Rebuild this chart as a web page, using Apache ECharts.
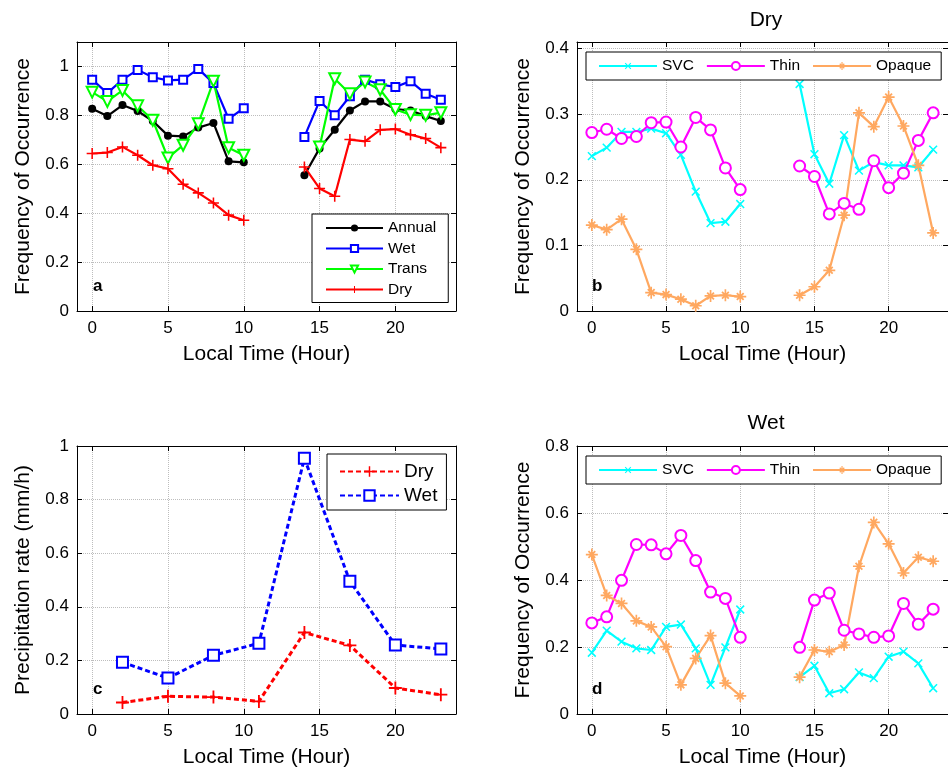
<!DOCTYPE html>
<html>
<head>
<meta charset="UTF-8">
<title></title>
<script src="https://cdn.jsdelivr.net/npm/echarts@6/dist/echarts.min.js"></script>
<style>
html, body { margin: 0; padding: 0; background: #fff; }
#main { width: 948px; height: 776px; }
</style>
</head>
<body>
<div id="main"></div>
<script>
// local hour 0..23, hours 11-13 have no data
var hours = [0,1,2,3,4,5,6,7,8,9,10,11,12,13,14,15,16,17,18,19,20,21,22,23];

// (a) frequency of occurrence
var aAnnual = [0.827,0.797,0.842,0.818,0.777,0.717,0.714,0.750,0.769,0.612,0.608,null,null,null,0.555,0.665,0.741,0.820,0.857,0.857,0.826,0.820,0.797,0.777];
var aWet    = [0.946,0.891,0.946,0.986,0.956,0.943,0.946,0.990,0.932,0.786,0.829,null,null,null,0.712,0.859,0.800,0.878,0.946,0.927,0.916,0.940,0.888,0.864];
var aTrans  = [0.895,0.857,0.902,0.839,0.780,0.626,0.678,0.766,0.940,0.668,0.637,null,null,null,null,0.671,0.950,0.888,0.936,0.905,0.824,0.803,0.800,0.811];
var aDry    = [0.644,0.648,0.671,0.637,0.596,0.582,0.518,0.483,0.442,0.392,0.371,null,null,null,0.589,0.501,0.469,0.701,0.694,0.741,0.744,0.721,0.705,0.668];

// (b) dry season
var bSvc    = [0.236,0.249,0.273,0.273,0.278,0.271,0.238,0.182,0.134,0.136,0.163,null,null,null,0.346,0.239,0.194,0.268,0.214,0.227,0.222,0.222,0.219,0.246];
var bThin   = [0.272,0.277,0.263,0.266,0.287,0.288,0.250,0.295,0.276,0.218,0.185,null,null,null,0.221,0.205,0.148,0.164,0.155,0.229,0.188,0.210,0.260,0.302];
var bOpaque = [0.131,0.124,0.140,0.094,0.028,0.025,0.018,0.008,0.023,0.024,0.022,null,null,null,0.024,0.037,0.062,0.146,0.302,0.281,0.326,0.282,0.222,0.119];

// (c) precipitation rate, every 3 hours
var cHours = [2,5,8,11,14,17,20,23];
var cDry   = [0.043,0.066,0.063,0.047,0.304,0.256,0.097,0.072];
var cWet   = [0.193,0.134,0.219,0.264,0.954,0.495,0.257,0.243];

// (d) wet season
var dSvc    = [0.183,0.249,0.216,0.196,0.191,0.260,0.267,0.196,0.087,0.199,0.312,null,null,null,0.110,0.144,0.062,0.074,0.124,0.107,0.171,0.186,0.151,0.077];
var dThin   = [0.272,0.290,0.399,0.506,0.505,0.478,0.533,0.458,0.364,0.345,0.229,null,null,null,0.199,0.340,0.361,0.250,0.239,0.229,0.233,0.330,0.268,0.313];
var dOpaque = [0.476,0.354,0.330,0.278,0.260,0.201,0.087,0.166,0.234,0.092,0.054,null,null,null,0.110,0.191,0.186,0.206,0.441,0.572,0.508,0.421,0.468,0.456];

var FONT = '"Liberation Sans", Arial, Helvetica, sans-serif';

// marker shapes: plus, and asterisk (plus + x)
var PLUS = 'path://M-1,-0.14L1,-0.14L1,0.14L-1,0.14Z M-0.14,-1L0.14,-1L0.14,1L-0.14,1Z';
var STAR = 'path://M-1,-0.14L1,-0.14L1,0.14L-1,0.14Z M-0.14,-1L0.14,-1L0.14,1L-0.14,1Z' +
	' M-0.46,-0.672L0.672,0.46L0.46,0.672L-0.672,-0.46Z' +
	' M0.672,-0.46L-0.46,0.672L-0.672,0.46L0.46,-0.672Z';

var grids = [
	{left: 77,  top: 42,  width: 379, height: 269},
	{left: 577, top: 42,  width: 379, height: 269},
	{left: 77,  top: 446, width: 379, height: 268},
	{left: 577, top: 446, width: 379, height: 268}
];

function pairs(xs, ys) {
	return xs.map(function (x, i) { return [x, ys[i] == null ? '-' : ys[i]]; });
}

var tickStyle = {inside: true, length: 5, lineStyle: {color: '#000', width: 1}};
var lineBlack = {onZero: false, lineStyle: {color: '#000', width: 1}};
var gridLine = {show: true, lineStyle: {color: '#bdbdbd', type: 'dotted', width: 1}};

var xAxes = [], yAxes = [];
function addAxes(g, ymax, yint, yname, hideMax) {
	xAxes.push({
		gridIndex: g, type: 'value', min: -1, max: 24, splitNumber: 5, minInterval: 5, maxInterval: 5,
		name: 'Local Time (Hour)', nameLocation: 'middle', nameGap: 33,
		nameTextStyle: {fontSize: 21, color: '#000', fontFamily: FONT},
		axisLine: lineBlack, axisTick: tickStyle,
		axisLabel: {margin: 9, fontSize: 17, color: '#000', fontFamily: FONT, showMinLabel: false, showMaxLabel: false},
		splitLine: gridLine
	});
	xAxes.push({
		gridIndex: g, type: 'value', position: 'top', min: -1, max: 24, splitNumber: 5, minInterval: 5, maxInterval: 5,
		axisLine: lineBlack, axisTick: tickStyle, axisLabel: {show: false}, splitLine: {show: false}
	});
	var lab = {margin: 8, fontSize: 17, color: '#000', fontFamily: FONT};
	if (hideMax) lab.showMaxLabel = false;
	yAxes.push({
		gridIndex: g, type: 'value', min: 0, max: ymax, interval: yint,
		name: yname, nameLocation: 'middle', nameGap: 43,
		nameTextStyle: {fontSize: 21, color: '#000', fontFamily: FONT},
		axisLine: lineBlack, axisTick: tickStyle, axisLabel: lab, splitLine: gridLine
	});
	yAxes.push({
		gridIndex: g, type: 'value', position: 'right', min: 0, max: ymax, interval: yint,
		axisLine: lineBlack, axisTick: tickStyle, axisLabel: {show: false}, splitLine: {show: false}
	});
}
addAxes(0, 1.1, 0.2, 'Frequency of Occurrence', true);
addAxes(1, 0.41, 0.1, 'Frequency of Occurrence', true);
addAxes(2, 1, 0.2, 'Precipitation rate (mm/h)', false);
addAxes(3, 0.8, 0.2, 'Frequency of Occurrence', false);

function line(name, g, xs, ys, color, symbol, size, extra) {
	var s = {
		name: name, type: 'line', xAxisIndex: 2 * g, yAxisIndex: 2 * g,
		data: pairs(xs, ys), connectNulls: false,
		symbol: symbol, symbolSize: size, showAllSymbol: true,
		lineStyle: {color: color, width: 2.2},
		itemStyle: {color: color, borderColor: color, borderWidth: 2},
		emphasis: {disabled: true}
	};
	if (extra) {
		for (var k in extra) s[k] = extra[k];
	}
	return s;
}

var series = [
	line('Annual', 0, hours, aAnnual, '#000000', 'circle', 8, {itemStyle: {color: '#000', borderWidth: 0}}),
	line('Wet', 0, hours, aWet, '#0000ff', 'emptyRect', 8),
	line('Trans', 0, hours, aTrans, '#00ff00', 'emptyTriangle', 11, {symbolRotate: 180}),
	line('Dry', 0, hours, aDry, '#ff0000', PLUS, 11, {itemStyle: {color: '#ff0000', borderWidth: 0}}),

	line('SVC', 1, hours, bSvc, '#00ffff', PLUS, 11, {symbolRotate: 45, itemStyle: {color: '#00ffff', borderWidth: 0}}),
	line('Thin', 1, hours, bThin, '#ff00ff', 'emptyCircle', 11),
	line('Opaque', 1, hours, bOpaque, '#ffa860', STAR, 12, {itemStyle: {color: '#ffa860', borderWidth: 0}}),

	line('Dry ', 2, cHours, cDry, '#ff0000', PLUS, 13, {
		lineStyle: {color: '#ff0000', width: 3, type: [5, 3]},
		itemStyle: {color: '#ff0000', borderWidth: 0}
	}),
	line('Wet ', 2, cHours, cWet, '#0000ff', 'emptyRect', 11, {
		lineStyle: {color: '#0000ff', width: 3, type: [5, 3]},
		itemStyle: {color: '#0000ff', borderColor: '#0000ff', borderWidth: 3}
	}),

	line('SVC', 3, hours, dSvc, '#00ffff', PLUS, 11, {symbolRotate: 45, itemStyle: {color: '#00ffff', borderWidth: 0}}),
	line('Thin', 3, hours, dThin, '#ff00ff', 'emptyCircle', 11),
	line('Opaque', 3, hours, dOpaque, '#ffa860', STAR, 12, {itemStyle: {color: '#ffa860', borderWidth: 0}})
];

var legendText = {fontSize: 15.5, lineHeight: 16, color: '#000', fontFamily: FONT};
var legends = [
	{data: ['Annual', 'Wet', 'Trans', 'Dry'], orient: 'vertical', left: 312, top: 214,
		itemWidth: 57, itemHeight: 9, itemGap: 4.5, padding: [6, 12, 5, 13]},
	{data: ['SVC', 'Thin', 'Opaque'], orient: 'horizontal', left: 586, top: 52,
		itemWidth: 58, itemHeight: 10, itemGap: 12, padding: [6, 10, 6, 12]},
	{data: ['Dry ', 'Wet '], orient: 'vertical', left: 327, top: 454,
		itemWidth: 59, itemHeight: 13, itemGap: 5, padding: [8, 9, 5, 12],
		formatter: function (n) { return n.trim(); },
		textStyle: {fontSize: 19, lineHeight: 19, color: '#000', fontFamily: FONT}},
	{data: ['SVC', 'Thin', 'Opaque'], orient: 'horizontal', left: 586, top: 456,
		itemWidth: 58, itemHeight: 10, itemGap: 12, padding: [6, 10, 6, 12]}
];
legends.forEach(function (l) {
	l.borderColor = '#000';
	l.borderWidth = 1;
	l.backgroundColor = '#fff';
	l.selectedMode = false;
	if (!l.textStyle) l.textStyle = legendText;
});

function label(text, x, y, size, bold) {
	var font = (bold ? 'bold ' : '') + size + 'px ' + FONT;
	return {
		type: 'text', x: x, y: y, z: 100,
		style: {text: text, font: font, fill: '#000', align: bold ? 'left' : 'center', textAlign: bold ? 'left' : 'center',
			verticalAlign: 'middle', textVerticalAlign: 'middle'}
	};
}

var chart = echarts.init(document.getElementById('main'));
chart.setOption({
	animation: false,
	backgroundColor: '#fff',
	textStyle: {fontFamily: FONT},
	grid: grids,
	xAxis: xAxes,
	yAxis: yAxes,
	legend: legends,
	series: series,
	graphic: [
		label('Dry', 766, 20, 21, false),
		label('Wet', 766, 423, 21, false),
		label('a', 93, 286, 17, true),
		label('b', 592, 286, 17, true),
		label('c', 93, 689, 17, true),
		label('d', 592, 689, 17, true)
	]
});
</script>
</body>
</html>
